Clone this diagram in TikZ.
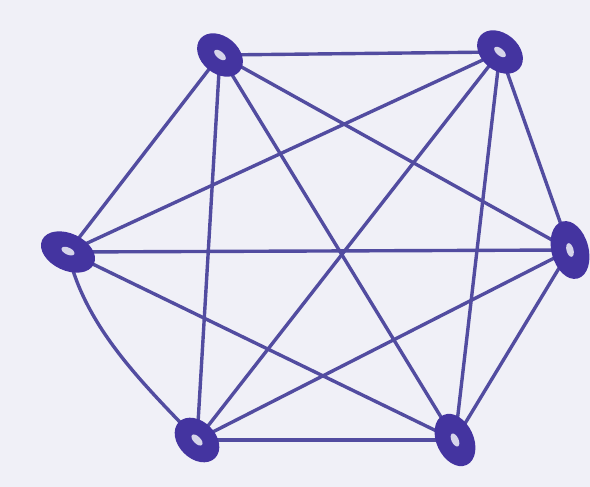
\documentclass[tikz,border=0pt]{standalone}
\usetikzlibrary{shapes.geometric}
\definecolor{paper}{RGB}{240,240,247}
\definecolor{ink}{RGB}{82,76,160}
\definecolor{inkdark}{RGB}{68,52,160}
\tikzset{
  vert/.style={ellipse, draw=inkdark, line width=3pt, fill=inkdark, minimum width=48pt, minimum height=34pt, inner sep=0pt,
    path picture={\fill[paper!85!inkdark] (path picture bounding box.center) ellipse (7pt and 3.5pt);}},
  edge/.style={draw=ink, line width=3.4pt, line cap=round}
}
\begin{document}
\begin{tikzpicture}[x=1pt,y=-1pt]
\fill[paper] (0,0) rectangle (590,487);
\useasboundingbox (0,0) rectangle (590,487);
\coordinate (A) at (220,55);
\coordinate (B) at (500,52);
\coordinate (C) at (68,252);
\coordinate (D) at (570,250);
\coordinate (E) at (197,440);
\coordinate (F) at (455,440);
\draw[edge] (A) -- (B);
\draw[edge] (A) -- (C);
\draw[edge] (A) -- (D);
\draw[edge] (A) -- (E);
\draw[edge] (A) -- (F);
\draw[edge] (B) -- (C);
\draw[edge] (B) -- (D);
\draw[edge] (B) -- (E);
\draw[edge] (B) -- (F);
\draw[edge] (C) -- (D);
\draw[edge] (C) .. controls (85,330) and (150,390) .. (E);
\draw[edge] (C) -- (F);
\draw[edge] (D) -- (E);
\draw[edge] (D) -- (F);
\draw[edge] (E) -- (F);
\node[vert, rotate=-40] (a) at (A) {};
\node[vert, rotate=-40] (b) at (B) {};
\node[vert, rotate=-25, minimum width=54pt] (c) at (C) {};
\node[vert, rotate=-75, minimum width=56pt] (d) at (D) {};
\node[vert, rotate=-45] (e) at (E) {};
\node[vert, rotate=-65, minimum width=52pt] (f) at (F) {};
\end{tikzpicture}
\end{document}
